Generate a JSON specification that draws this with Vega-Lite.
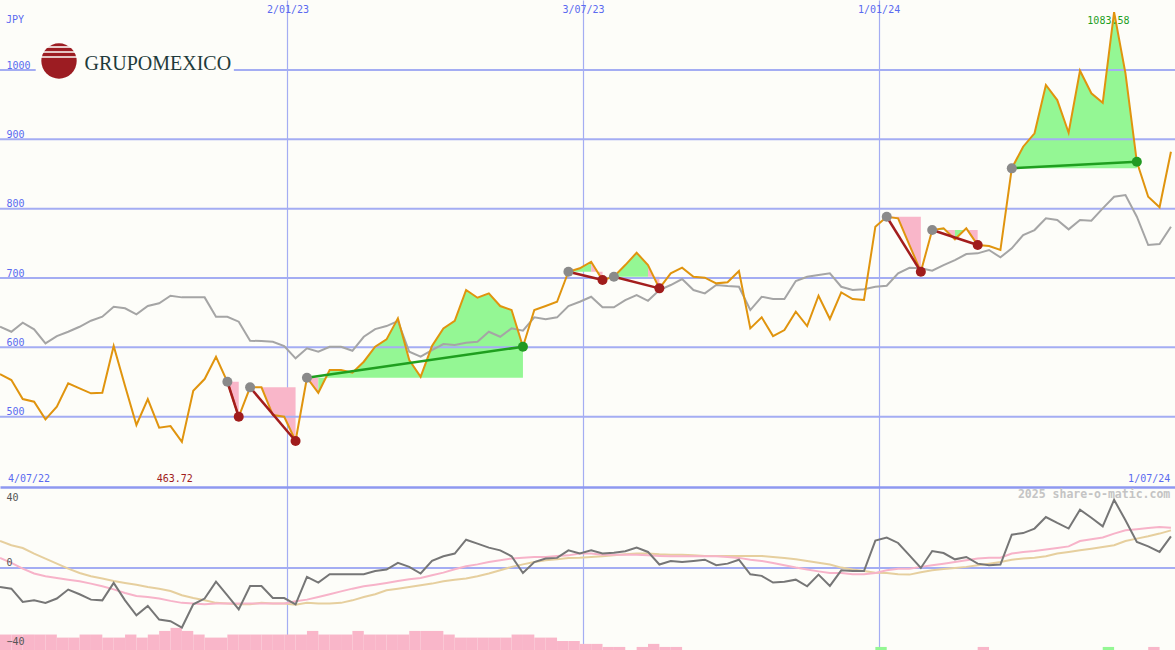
{
  "$schema": "https://vega.github.io/schema/vega-lite/v6.json",
  "background": "#fdfdf9",
  "padding": 0,
  "spacing": 0,
  "config": {"view": {"stroke": null}},
  "datasets": {
    "main": [
      {"d":"2022-07-09","p":561.5,"g":629.7,"o":-10.6,"a":5.6,"b":15.0},
      {"d":"2022-07-16","p":552.9,"g":622.5,"o":-11.5,"a":2.8,"b":12.6},
      {"d":"2022-07-23","p":525.5,"g":635.5,"o":-18.9,"a":-0.4,"b":11.1},
      {"d":"2022-07-30","p":521.6,"g":626.0,"o":-18.0,"a":-3.1,"b":8.0},
      {"d":"2022-08-06","p":496.2,"g":605.8,"o":-19.4,"a":-4.6,"b":5.2},
      {"d":"2022-08-13","p":514.3,"g":616.3,"o":-17.0,"a":-5.6,"b":2.4},
      {"d":"2022-08-20","p":548.1,"g":622.5,"o":-12.0,"a":-6.5,"b":-0.4},
      {"d":"2022-08-27","p":540.9,"g":629.7,"o":-14.6,"a":-7.4,"b":-2.8},
      {"d":"2022-09-03","p":533.7,"g":638.4,"o":-17.6,"a":-8.7,"b":-4.6},
      {"d":"2022-09-10","p":534.5,"g":644.2,"o":-18.0,"a":-10.2,"b":-5.9},
      {"d":"2022-09-17","p":601.9,"g":658.6,"o":-8.3,"a":-11.9,"b":-7.2},
      {"d":"2022-09-24","p":544.2,"g":656.3,"o":-18.0,"a":-13.9,"b":-8.3},
      {"d":"2022-10-01","p":488.0,"g":647.6,"o":-26.3,"a":-15.6,"b":-9.3},
      {"d":"2022-10-08","p":525.5,"g":659.6,"o":-21.1,"a":-16.1,"b":-10.6},
      {"d":"2022-10-15","p":484.1,"g":663.5,"o":-28.7,"a":-17.0,"b":-11.5},
      {"d":"2022-10-22","p":486.5,"g":674.4,"o":-29.6,"a":-18.3,"b":-12.8},
      {"d":"2022-10-29","p":463.72,"g":672.1,"o":-33.1,"a":-19.4,"b":-15.2},
      {"d":"2022-11-05","p":537.4,"g":672.1,"o":-20.2,"a":-19.8,"b":-16.7},
      {"d":"2022-11-12","p":554.3,"g":672.1,"o":-17.0,"a":-20.2,"b":-18.0},
      {"d":"2022-11-19","p":586.5,"g":644.2,"o":-7.6,"a":-19.8,"b":-19.4},
      {"d":"2022-11-26","p":550.4,"g":644.2,"o":-15.2,"a":-19.8,"b":-19.8},
      {"d":"2022-12-03","p":499.9,"g":637.0,"o":-23.0,"a":-19.8,"b":-20.2},
      {"d":"2022-12-10","p":542.3,"g":609.5,"o":-10.0,"a":-19.8,"b":-20.2},
      {"d":"2022-12-17","p":542.3,"g":609.1,"o":-10.0,"a":-19.8,"b":-19.4},
      {"d":"2022-12-24","p":502.4,"g":608.1,"o":-16.7,"a":-19.8,"b":-19.8},
      {"d":"2022-12-31","p":499.9,"g":601.9,"o":-16.7,"a":-19.8,"b":-19.8},
      {"d":"2023-01-07","p":465.0,"g":584.2,"o":-20.2,"a":-18.5,"b":-20.4},
      {"d":"2023-01-14","p":556.2,"g":598.6,"o":-5.0,"a":-17.6,"b":-19.4},
      {"d":"2023-01-21","p":534.5,"g":593.7,"o":-8.1,"a":-16.1,"b":-19.8},
      {"d":"2023-01-28","p":567.3,"g":600.9,"o":-3.5,"a":-14.6,"b":-19.8},
      {"d":"2023-02-04","p":567.3,"g":600.9,"o":-3.5,"a":-13.0,"b":-19.4},
      {"d":"2023-02-11","p":563.4,"g":595.1,"o":-3.5,"a":-11.5,"b":-18.0},
      {"d":"2023-02-18","p":579.3,"g":615.3,"o":-3.5,"a":-10.2,"b":-16.1},
      {"d":"2023-02-25","p":600.9,"g":626.4,"o":-1.7,"a":-9.3,"b":-14.6},
      {"d":"2023-03-04","p":611.5,"g":630.7,"o":-0.9,"a":-8.3,"b":-12.4},
      {"d":"2023-03-11","p":641.9,"g":638.0,"o":2.8,"a":-7.2,"b":-11.5},
      {"d":"2023-03-18","p":581.7,"g":593.7,"o":0.6,"a":-6.3,"b":-10.6},
      {"d":"2023-03-25","p":557.6,"g":586.5,"o":-3.1,"a":-5.6,"b":-9.6},
      {"d":"2023-04-01","p":601.9,"g":596.1,"o":3.9,"a":-4.1,"b":-8.7},
      {"d":"2023-04-08","p":627.4,"g":604.8,"o":6.5,"a":-2.6,"b":-7.4},
      {"d":"2023-04-15","p":638.4,"g":603.3,"o":8.0,"a":-0.7,"b":-6.5},
      {"d":"2023-04-22","p":682.7,"g":606.7,"o":15.7,"a":0.9,"b":-5.9},
      {"d":"2023-04-29","p":671.6,"g":608.1,"o":13.5,"a":2.0,"b":-4.6},
      {"d":"2023-05-06","p":677.9,"g":622.5,"o":11.3,"a":3.3,"b":-3.1},
      {"d":"2023-05-13","p":659.6,"g":615.3,"o":9.8,"a":4.3,"b":-1.3},
      {"d":"2023-05-20","p":653.8,"g":627.4,"o":6.5,"a":5.2,"b":0.6},
      {"d":"2023-05-27","p":600.9,"g":624.0,"o":-2.8,"a":5.7,"b":2.0},
      {"d":"2023-06-03","p":653.8,"g":643.3,"o":3.3,"a":6.1,"b":3.3},
      {"d":"2023-06-10","p":659.6,"g":640.4,"o":5.2,"a":6.1,"b":4.3},
      {"d":"2023-06-17","p":665.8,"g":643.3,"o":5.6,"a":6.7,"b":4.8},
      {"d":"2023-06-24","p":709.1,"g":659.6,"o":9.8,"a":7.0,"b":5.6},
      {"d":"2023-07-01","p":714.0,"g":665.8,"o":8.0,"a":8.0,"b":5.7},
      {"d":"2023-07-08","p":723.5,"g":673.0,"o":9.8,"a":8.0,"b":6.1},
      {"d":"2023-07-15","p":697.1,"g":657.7,"o":8.0,"a":7.4,"b":6.5},
      {"d":"2023-07-22","p":701.9,"g":657.7,"o":8.5,"a":7.4,"b":7.0},
      {"d":"2023-07-29","p":718.7,"g":668.2,"o":9.3,"a":7.4,"b":7.6},
      {"d":"2023-08-05","p":736.5,"g":675.5,"o":11.3,"a":7.4,"b":8.0},
      {"d":"2023-08-12","p":718.7,"g":667.2,"o":8.9,"a":7.0,"b":8.0},
      {"d":"2023-08-19","p":685.1,"g":682.7,"o":1.9,"a":6.7,"b":7.6},
      {"d":"2023-08-26","p":706.8,"g":689.9,"o":3.9,"a":6.5,"b":7.4},
      {"d":"2023-09-02","p":714.9,"g":698.5,"o":3.3,"a":6.5,"b":7.4},
      {"d":"2023-09-09","p":701.9,"g":682.7,"o":3.9,"a":6.5,"b":7.0},
      {"d":"2023-09-16","p":700.5,"g":677.9,"o":4.6,"a":6.5,"b":6.7},
      {"d":"2023-09-23","p":692.3,"g":689.9,"o":1.5,"a":6.5,"b":6.7},
      {"d":"2023-09-30","p":693.8,"g":688.4,"o":2.4,"a":6.1,"b":6.7},
      {"d":"2023-10-07","p":710.1,"g":687.4,"o":4.6,"a":5.6,"b":6.7},
      {"d":"2023-10-14","p":627.4,"g":653.8,"o":-3.5,"a":4.6,"b":6.7},
      {"d":"2023-10-21","p":643.3,"g":673.0,"o":-4.4,"a":3.9,"b":6.7},
      {"d":"2023-10-28","p":616.3,"g":669.7,"o":-8.1,"a":2.8,"b":6.1},
      {"d":"2023-11-04","p":625.0,"g":669.7,"o":-7.6,"a":1.5,"b":5.6},
      {"d":"2023-11-11","p":651.4,"g":695.7,"o":-6.5,"a":0.2,"b":4.8},
      {"d":"2023-11-18","p":630.8,"g":701.9,"o":-10.2,"a":-0.9,"b":3.9},
      {"d":"2023-11-25","p":674.5,"g":704.3,"o":-3.7,"a":-1.9,"b":2.9},
      {"d":"2023-12-02","p":640.9,"g":706.8,"o":-10.0,"a":-2.8,"b":1.9},
      {"d":"2023-12-09","p":679.3,"g":687.4,"o":-1.3,"a":-2.8,"b":0.2},
      {"d":"2023-12-16","p":669.7,"g":682.7,"o":-1.7,"a":-3.5,"b":-0.9},
      {"d":"2023-12-23","p":668.3,"g":683.7,"o":-1.7,"a":-3.5,"b":-1.7},
      {"d":"2023-12-30","p":774.0,"g":687.4,"o":15.2,"a":-2.8,"b":-2.6},
      {"d":"2024-01-06","p":788.4,"g":688.9,"o":16.9,"a":-1.3,"b":-2.8},
      {"d":"2024-01-13","p":786.1,"g":706.8,"o":13.9,"a":-0.4,"b":-3.5},
      {"d":"2024-01-20","p":747.6,"g":714.8,"o":7.0,"a":-0.4,"b":-3.7},
      {"d":"2024-01-27","p":709.1,"g":714.0,"o":0.0,"a":0.6,"b":-2.4},
      {"d":"2024-02-03","p":769.2,"g":710.5,"o":9.4,"a":1.5,"b":-1.3},
      {"d":"2024-02-10","p":771.6,"g":718.7,"o":8.3,"a":2.4,"b":-0.6},
      {"d":"2024-02-17","p":755.8,"g":725.9,"o":4.8,"a":3.3,"b":0.0},
      {"d":"2024-02-24","p":771.6,"g":734.6,"o":6.1,"a":4.3,"b":0.6},
      {"d":"2024-03-02","p":747.6,"g":735.6,"o":2.4,"a":5.2,"b":1.5},
      {"d":"2024-03-09","p":746.1,"g":740.4,"o":1.5,"a":5.7,"b":2.4},
      {"d":"2024-03-16","p":740.4,"g":729.8,"o":1.9,"a":5.7,"b":3.3},
      {"d":"2024-03-23","p":858.2,"g":742.8,"o":18.5,"a":8.0,"b":4.6},
      {"d":"2024-03-30","p":889.4,"g":762.0,"o":19.4,"a":8.9,"b":5.2},
      {"d":"2024-04-06","p":908.7,"g":769.2,"o":21.9,"a":9.4,"b":5.7},
      {"d":"2024-04-13","p":978.4,"g":786.1,"o":28.3,"a":10.2,"b":6.5},
      {"d":"2024-04-20","p":956.7,"g":783.6,"o":25.0,"a":11.1,"b":8.0},
      {"d":"2024-04-27","p":909.6,"g":770.2,"o":21.9,"a":12.0,"b":8.9},
      {"d":"2024-05-04","p":999.0,"g":783.6,"o":32.4,"a":15.0,"b":9.8},
      {"d":"2024-05-11","p":966.4,"g":782.6,"o":27.9,"a":15.9,"b":10.7},
      {"d":"2024-05-18","p":952.8,"g":800.5,"o":23.1,"a":16.9,"b":11.7},
      {"d":"2024-05-25","p":1083.58,"g":817.2,"o":37.9,"a":19.1,"b":12.6},
      {"d":"2024-06-01","p":995.2,"g":819.7,"o":26.5,"a":20.9,"b":15.0},
      {"d":"2024-06-08","p":867.7,"g":788.4,"o":14.4,"a":21.5,"b":16.3},
      {"d":"2024-06-15","p":817.3,"g":747.6,"o":12.0,"a":22.2,"b":17.6},
      {"d":"2024-06-22","p":802.0,"g":749.0,"o":8.9,"a":22.8,"b":19.1},
      {"d":"2024-06-29","p":882.2,"g":774.0,"o":17.6,"a":22.4,"b":20.9}
    ],
    "runs": [
      {"r":1,"c":"down","d":"2022-11-26","p":550.4,"b":550.4},
      {"r":1,"c":"down","d":"2022-12-03","p":499.9,"b":550.4},
      {"r":2,"c":"down","d":"2022-12-10","p":542.3,"b":542.3},
      {"r":2,"c":"down","d":"2022-12-17","p":542.3,"b":542.3},
      {"r":2,"c":"down","d":"2022-12-24","p":502.4,"b":542.3},
      {"r":2,"c":"down","d":"2022-12-31","p":499.9,"b":542.3},
      {"r":2,"c":"down","d":"2023-01-07","p":465.0,"b":542.3},
      {"r":3,"c":"down","d":"2023-01-14","p":556.2,"b":556.2},
      {"r":3,"c":"down","d":"2023-01-21","p":534.5,"b":556.2},
      {"r":4,"c":"up","d":"2023-01-21","p":534.5,"b":556.2},
      {"r":4,"c":"up","d":"2023-01-28","p":567.3,"b":556.2},
      {"r":4,"c":"up","d":"2023-02-04","p":567.3,"b":556.2},
      {"r":4,"c":"up","d":"2023-02-11","p":563.4,"b":556.2},
      {"r":4,"c":"up","d":"2023-02-18","p":579.3,"b":556.2},
      {"r":4,"c":"up","d":"2023-02-25","p":600.9,"b":556.2},
      {"r":4,"c":"up","d":"2023-03-04","p":611.5,"b":556.2},
      {"r":4,"c":"up","d":"2023-03-11","p":641.9,"b":556.2},
      {"r":4,"c":"up","d":"2023-03-18","p":581.7,"b":556.2},
      {"r":4,"c":"up","d":"2023-03-25","p":557.6,"b":556.2},
      {"r":4,"c":"up","d":"2023-04-01","p":601.9,"b":556.2},
      {"r":4,"c":"up","d":"2023-04-08","p":627.4,"b":556.2},
      {"r":4,"c":"up","d":"2023-04-15","p":638.4,"b":556.2},
      {"r":4,"c":"up","d":"2023-04-22","p":682.7,"b":556.2},
      {"r":4,"c":"up","d":"2023-04-29","p":671.6,"b":556.2},
      {"r":4,"c":"up","d":"2023-05-06","p":677.9,"b":556.2},
      {"r":4,"c":"up","d":"2023-05-13","p":659.6,"b":556.2},
      {"r":4,"c":"up","d":"2023-05-20","p":653.8,"b":556.2},
      {"r":4,"c":"up","d":"2023-05-27","p":600.9,"b":556.2},
      {"r":5,"c":"up","d":"2023-06-24","p":709.1,"b":709.1},
      {"r":5,"c":"up","d":"2023-07-01","p":714.0,"b":709.1},
      {"r":5,"c":"up","d":"2023-07-08","p":723.5,"b":709.1},
      {"r":6,"c":"down","d":"2023-07-08","p":723.5,"b":709.1},
      {"r":6,"c":"down","d":"2023-07-15","p":697.1,"b":709.1},
      {"r":7,"c":"up","d":"2023-07-22","p":701.9,"b":701.9},
      {"r":7,"c":"up","d":"2023-07-29","p":718.7,"b":701.9},
      {"r":7,"c":"up","d":"2023-08-05","p":736.5,"b":701.9},
      {"r":7,"c":"up","d":"2023-08-12","p":718.7,"b":701.9},
      {"r":8,"c":"down","d":"2023-08-12","p":718.7,"b":701.9},
      {"r":8,"c":"down","d":"2023-08-19","p":685.1,"b":701.9},
      {"r":9,"c":"down","d":"2024-01-06","p":788.4,"b":788.4},
      {"r":9,"c":"down","d":"2024-01-13","p":786.1,"b":788.4},
      {"r":9,"c":"down","d":"2024-01-20","p":747.6,"b":788.4},
      {"r":9,"c":"down","d":"2024-01-27","p":709.1,"b":788.4},
      {"r":10,"c":"up","d":"2024-02-03","p":769.2,"b":769.2},
      {"r":10,"c":"up","d":"2024-02-10","p":771.6,"b":769.2},
      {"r":11,"c":"down","d":"2024-02-10","p":771.6,"b":769.2},
      {"r":11,"c":"down","d":"2024-02-17","p":755.8,"b":769.2},
      {"r":12,"c":"up","d":"2024-02-17","p":755.8,"b":769.2},
      {"r":12,"c":"up","d":"2024-02-24","p":771.6,"b":769.2},
      {"r":13,"c":"down","d":"2024-02-24","p":771.6,"b":769.2},
      {"r":13,"c":"down","d":"2024-03-02","p":747.6,"b":769.2},
      {"r":14,"c":"up","d":"2024-03-23","p":858.2,"b":858.2},
      {"r":14,"c":"up","d":"2024-03-30","p":889.4,"b":858.2},
      {"r":14,"c":"up","d":"2024-04-06","p":908.7,"b":858.2},
      {"r":14,"c":"up","d":"2024-04-13","p":978.4,"b":858.2},
      {"r":14,"c":"up","d":"2024-04-20","p":956.7,"b":858.2},
      {"r":14,"c":"up","d":"2024-04-27","p":909.6,"b":858.2},
      {"r":14,"c":"up","d":"2024-05-04","p":999.0,"b":858.2},
      {"r":14,"c":"up","d":"2024-05-11","p":966.4,"b":858.2},
      {"r":14,"c":"up","d":"2024-05-18","p":952.8,"b":858.2},
      {"r":14,"c":"up","d":"2024-05-25","p":1083.58,"b":858.2},
      {"r":14,"c":"up","d":"2024-06-01","p":995.2,"b":858.2},
      {"r":14,"c":"up","d":"2024-06-08","p":867.7,"b":858.2}
    ],
    "trends": [
      {"t":1,"dir":"down","m":"start","d":"2022-11-26","p":550.4},
      {"t":1,"dir":"down","m":"down","d":"2022-12-03","p":499.9},
      {"t":2,"dir":"down","m":"start","d":"2022-12-10","p":542.3},
      {"t":2,"dir":"down","m":"down","d":"2023-01-07","p":465.0},
      {"t":3,"dir":"up","m":"start","d":"2023-01-14","p":556.2},
      {"t":3,"dir":"up","m":"up","d":"2023-05-27","p":600.9},
      {"t":4,"dir":"down","m":"start","d":"2023-06-24","p":709.1},
      {"t":4,"dir":"down","m":"down","d":"2023-07-15","p":697.1},
      {"t":5,"dir":"down","m":"start","d":"2023-07-22","p":701.9},
      {"t":5,"dir":"down","m":"down","d":"2023-08-19","p":685.1},
      {"t":6,"dir":"down","m":"start","d":"2024-01-06","p":788.4},
      {"t":6,"dir":"down","m":"down","d":"2024-01-27","p":709.1},
      {"t":7,"dir":"down","m":"start","d":"2024-02-03","p":769.2},
      {"t":7,"dir":"down","m":"down","d":"2024-03-02","p":747.6},
      {"t":8,"dir":"up","m":"start","d":"2024-03-23","p":858.2},
      {"t":8,"dir":"up","m":"up","d":"2024-06-08","p":867.7}
    ],
    "bars": [
      {"d":"2022-07-09","e":"2022-07-16","v":-37,"c":"down"},
      {"d":"2022-07-16","e":"2022-07-23","v":-37,"c":"down"},
      {"d":"2022-07-23","e":"2022-07-30","v":-37,"c":"down"},
      {"d":"2022-07-30","e":"2022-08-06","v":-37,"c":"down"},
      {"d":"2022-08-06","e":"2022-08-13","v":-37,"c":"down"},
      {"d":"2022-08-13","e":"2022-08-20","v":-38.7,"c":"down"},
      {"d":"2022-08-20","e":"2022-08-27","v":-38.7,"c":"down"},
      {"d":"2022-08-27","e":"2022-09-03","v":-37,"c":"down"},
      {"d":"2022-09-03","e":"2022-09-10","v":-37,"c":"down"},
      {"d":"2022-09-10","e":"2022-09-17","v":-38.7,"c":"down"},
      {"d":"2022-09-17","e":"2022-09-24","v":-38.7,"c":"down"},
      {"d":"2022-09-24","e":"2022-10-01","v":-37,"c":"down"},
      {"d":"2022-10-01","e":"2022-10-08","v":-38.7,"c":"down"},
      {"d":"2022-10-08","e":"2022-10-15","v":-37,"c":"down"},
      {"d":"2022-10-15","e":"2022-10-22","v":-35,"c":"down"},
      {"d":"2022-10-22","e":"2022-10-29","v":-33.3,"c":"down"},
      {"d":"2022-10-29","e":"2022-11-05","v":-35,"c":"down"},
      {"d":"2022-11-05","e":"2022-11-12","v":-37,"c":"down"},
      {"d":"2022-11-12","e":"2022-11-19","v":-38.7,"c":"down"},
      {"d":"2022-11-19","e":"2022-11-26","v":-38.7,"c":"down"},
      {"d":"2022-11-26","e":"2022-12-03","v":-37,"c":"down"},
      {"d":"2022-12-03","e":"2022-12-10","v":-37,"c":"down"},
      {"d":"2022-12-10","e":"2022-12-17","v":-37,"c":"down"},
      {"d":"2022-12-17","e":"2022-12-24","v":-37,"c":"down"},
      {"d":"2022-12-24","e":"2022-12-31","v":-37,"c":"down"},
      {"d":"2022-12-31","e":"2023-01-07","v":-37,"c":"down"},
      {"d":"2023-01-07","e":"2023-01-14","v":-37,"c":"down"},
      {"d":"2023-01-14","e":"2023-01-21","v":-35,"c":"down"},
      {"d":"2023-01-21","e":"2023-01-28","v":-37,"c":"down"},
      {"d":"2023-01-28","e":"2023-02-04","v":-37,"c":"down"},
      {"d":"2023-02-04","e":"2023-02-11","v":-37,"c":"down"},
      {"d":"2023-02-11","e":"2023-02-18","v":-35,"c":"down"},
      {"d":"2023-02-18","e":"2023-02-25","v":-37,"c":"down"},
      {"d":"2023-02-25","e":"2023-03-04","v":-37,"c":"down"},
      {"d":"2023-03-04","e":"2023-03-11","v":-37,"c":"down"},
      {"d":"2023-03-11","e":"2023-03-18","v":-37,"c":"down"},
      {"d":"2023-03-18","e":"2023-03-25","v":-35,"c":"down"},
      {"d":"2023-03-25","e":"2023-04-01","v":-35,"c":"down"},
      {"d":"2023-04-01","e":"2023-04-08","v":-35,"c":"down"},
      {"d":"2023-04-08","e":"2023-04-15","v":-37,"c":"down"},
      {"d":"2023-04-15","e":"2023-04-22","v":-38.7,"c":"down"},
      {"d":"2023-04-22","e":"2023-04-29","v":-38.7,"c":"down"},
      {"d":"2023-04-29","e":"2023-05-06","v":-38.7,"c":"down"},
      {"d":"2023-05-06","e":"2023-05-13","v":-38.7,"c":"down"},
      {"d":"2023-05-13","e":"2023-05-20","v":-38.7,"c":"down"},
      {"d":"2023-05-20","e":"2023-05-27","v":-37,"c":"down"},
      {"d":"2023-05-27","e":"2023-06-03","v":-37,"c":"down"},
      {"d":"2023-06-03","e":"2023-06-10","v":-38.7,"c":"down"},
      {"d":"2023-06-10","e":"2023-06-17","v":-38.7,"c":"down"},
      {"d":"2023-06-17","e":"2023-06-24","v":-40.6,"c":"down"},
      {"d":"2023-06-24","e":"2023-07-01","v":-40.6,"c":"down"},
      {"d":"2023-07-01","e":"2023-07-08","v":-42.2,"c":"down"},
      {"d":"2023-07-08","e":"2023-07-15","v":-42.2,"c":"down"},
      {"d":"2023-07-15","e":"2023-07-22","v":-43.9,"c":"down"},
      {"d":"2023-07-22","e":"2023-07-29","v":-43.9,"c":"down"},
      {"d":"2023-08-05","e":"2023-08-12","v":-43.9,"c":"down"},
      {"d":"2023-08-12","e":"2023-08-19","v":-42.2,"c":"down"},
      {"d":"2023-08-19","e":"2023-08-26","v":-43.9,"c":"down"},
      {"d":"2023-08-26","e":"2023-09-02","v":-43.9,"c":"down"},
      {"d":"2023-12-30","e":"2024-01-06","v":-43.9,"c":"up"},
      {"d":"2024-03-02","e":"2024-03-09","v":-43.9,"c":"down"},
      {"d":"2024-05-18","e":"2024-05-25","v":-43.9,"c":"up"},
      {"d":"2024-06-15","e":"2024-06-22","v":-43.9,"c":"down"}
    ]
  },
  "vconcat": [
    {
      "width": 1175,
      "height": 487,
      "resolve": {"scale": {"color": "independent"}},
      "layer": [
        {
          "data": {"name": "runs"},
          "mark": {"type": "area", "opacity": 1, "interpolate": "linear", "clip": true},
          "encoding": {
            "x": {"field": "d", "type": "temporal", "title": null,
              "scale": {"type": "utc", "domain": [{"year": 2022, "month": 7, "date": 9, "utc": true}, {"year": 2024, "month": 7, "date": 1, "hours": 12, "utc": true}]},
              "axis": {"orient": "top", "values": [{"year": 2023, "month": 1, "date": 2, "utc": true}, {"year": 2023, "month": 7, "date": 3, "utc": true}, {"year": 2024, "month": 1, "date": 1, "utc": true}],
                "grid": true, "gridColor": "#a4adf3", "gridWidth": 1.2, "domain": false, "ticks": false, "tickSize": 0,
                "labelExpr": "utcFormat(datum.value, '%-d/%m/%y')", "labelPadding": -14, "labelBaseline": "bottom",
                "labelColor": "#5a6af0", "labelFont": "DejaVu Sans Mono", "labelFontSize": 10, "labelFlush": false, "labelOverlap": false}},
            "y": {"field": "p", "type": "quantitative", "title": null,
              "scale": {"domain": [398.6, 1101], "zero": false, "nice": false},
              "axis": {"values": [500, 600, 700, 800, 900, 1000], "format": "d", "grid": false, "domain": false, "ticks": false, "tickSize": 0,
                "labelPadding": -6, "labelAlign": "left", "labelBaseline": "bottom", "labelColor": "#5a6af0",
                "labelFont": "DejaVu Sans Mono", "labelFontSize": 10, "labelOverlap": false, "labelFlush": false}},
            "y2": {"field": "b"},
            "detail": {"field": "r", "type": "nominal"},
            "color": {"field": "c", "type": "nominal", "legend": null, "scale": {"domain": ["up", "down"], "range": ["#94f794", "#f9b6c9"]}}
          }
        },
        {
          "data": {"values": [{"v": 500}, {"v": 600}, {"v": 700}, {"v": 800}, {"v": 900}, {"v": 1000}]},
          "mark": {"type": "rule", "color": "#a4adf3", "strokeWidth": 2, "clip": true},
          "encoding": {"y": {"field": "v", "type": "quantitative", "title": null}}
        },
        {
          "data": {"values": [{"d": "2022-07-31", "e": "2022-11-30", "y1": 990, "y2": 1010}]},
          "mark": {"type": "rect", "color": "#fdfdf9"},
          "encoding": {
            "x": {"field": "d", "type": "temporal", "title": null},
            "x2": {"field": "e"},
            "y": {"field": "y1", "type": "quantitative", "title": null},
            "y2": {"field": "y2"}
          }
        },
        {
          "data": {"values": [{"d": "2022-08-14T08:00:00Z", "v": 1013}]},
          "mark": {"type": "point", "shape": "circle", "filled": true, "opacity": 1, "size": 1250, "color": "#9c1c22"},
          "encoding": {
            "x": {"field": "d", "type": "temporal", "title": null},
            "y": {"field": "v", "type": "quantitative", "title": null}
          }
        },
        {
          "data": {"values": [
            {"d": "2022-08-05T12:00:00Z", "e": "2022-08-23T02:00:00Z", "v": 1033.2},
            {"d": "2022-08-03T05:00:00Z", "e": "2022-08-25T08:00:00Z", "v": 1026.0},
            {"d": "2022-08-02T05:00:00Z", "e": "2022-08-26T08:00:00Z", "v": 1018.8}
          ]},
          "mark": {"type": "rule", "color": "#fdfdf9", "strokeWidth": 1.6},
          "encoding": {
            "x": {"field": "d", "type": "temporal", "title": null},
            "x2": {"field": "e"},
            "y": {"field": "v", "type": "quantitative", "title": null}
          }
        },
        {
          "data": {"values": [{"d": "2022-08-30", "v": 1000, "label": "GRUPOMEXICO"}]},
          "mark": {"type": "text", "align": "left", "baseline": "alphabetic", "font": "Liberation Serif", "fontSize": 20, "color": "#1f3b3b"},
          "encoding": {
            "x": {"field": "d", "type": "temporal", "title": null},
            "y": {"field": "v", "type": "quantitative", "title": null},
            "text": {"field": "label"}
          }
        },
        {
          "data": {"name": "main"},
          "mark": {"type": "line", "color": "#a5a5a5", "strokeWidth": 2, "clip": true},
          "encoding": {
            "x": {"field": "d", "type": "temporal", "title": null},
            "y": {"field": "g", "type": "quantitative", "title": null}
          }
        },
        {
          "data": {"name": "main"},
          "mark": {"type": "line", "color": "#e0940e", "strokeWidth": 2, "clip": true},
          "encoding": {
            "x": {"field": "d", "type": "temporal", "title": null},
            "y": {"field": "p", "type": "quantitative", "title": null}
          }
        },
        {
          "data": {"name": "trends"},
          "mark": {"type": "line", "strokeWidth": 2.5, "clip": true},
          "encoding": {
            "x": {"field": "d", "type": "temporal", "title": null},
            "y": {"field": "p", "type": "quantitative", "title": null},
            "detail": {"field": "t", "type": "nominal"},
            "color": {"field": "dir", "type": "nominal", "legend": null, "scale": {"domain": ["down", "up"], "range": ["#a31d1d", "#1f9f1f"]}}
          }
        },
        {
          "data": {"name": "trends"},
          "mark": {"type": "circle", "size": 100, "opacity": 1},
          "encoding": {
            "x": {"field": "d", "type": "temporal", "title": null},
            "y": {"field": "p", "type": "quantitative", "title": null},
            "color": {"field": "m", "type": "nominal", "legend": null, "scale": {"domain": ["start", "down", "up"], "range": ["#8a8a8a", "#a01c1c", "#229a22"]}}
          }
        },
        {
          "data": {"values": [{"d": "2022-07-12T16:00:00Z", "v": 1071.5, "label": "JPY"}, {"d": "2022-07-13T22:00:00Z", "v": 410.1, "label": "4/07/22"}]},
          "mark": {"type": "text", "align": "left", "baseline": "middle", "font": "DejaVu Sans Mono", "fontSize": 10, "color": "#5a6af0"},
          "encoding": {
            "x": {"field": "d", "type": "temporal", "title": null},
            "y": {"field": "v", "type": "quantitative", "title": null},
            "text": {"field": "label"}
          }
        },
        {
          "data": {"values": [{"d": "2024-06-28T14:00:00Z", "v": 410.1, "label": "1/07/24"}]},
          "mark": {"type": "text", "align": "right", "baseline": "middle", "font": "DejaVu Sans Mono", "fontSize": 10, "color": "#5a6af0"},
          "encoding": {
            "x": {"field": "d", "type": "temporal", "title": null},
            "y": {"field": "v", "type": "quantitative", "title": null},
            "text": {"field": "label"}
          }
        },
        {
          "data": {"values": [{"d": "2022-10-24T14:00:00Z", "v": 410.1, "label": "463.72"}]},
          "mark": {"type": "text", "align": "center", "baseline": "middle", "font": "DejaVu Sans Mono", "fontSize": 10, "color": "#a01c1c"},
          "encoding": {
            "x": {"field": "d", "type": "temporal", "title": null},
            "y": {"field": "v", "type": "quantitative", "title": null},
            "text": {"field": "label"}
          }
        },
        {
          "data": {"values": [{"d": "2024-05-21T12:00:00Z", "v": 1070.7, "label": "1083.58"}]},
          "mark": {"type": "text", "align": "center", "baseline": "middle", "font": "DejaVu Sans Mono", "fontSize": 10, "color": "#1f9f1f"},
          "encoding": {
            "x": {"field": "d", "type": "temporal", "title": null},
            "y": {"field": "v", "type": "quantitative", "title": null},
            "text": {"field": "label"}
          }
        }
      ]
    },
    {
      "width": 1175,
      "height": 163,
      "resolve": {"scale": {"color": "independent"}},
      "layer": [
        {
          "data": {"name": "bars"},
          "mark": {"type": "rect", "clip": true},
          "encoding": {
            "x": {"field": "d", "type": "temporal", "title": null,
              "scale": {"type": "utc", "domain": [{"year": 2022, "month": 7, "date": 9, "utc": true}, {"year": 2024, "month": 7, "date": 1, "hours": 12, "utc": true}]},
              "axis": {"orient": "top", "values": [{"year": 2023, "month": 1, "date": 2, "utc": true}, {"year": 2023, "month": 7, "date": 3, "utc": true}, {"year": 2024, "month": 1, "date": 1, "utc": true}],
                "grid": true, "gridColor": "#a4adf3", "gridWidth": 1.2, "domain": true, "domainColor": "#8e98f0", "domainWidth": 2.5,
                "ticks": false, "tickSize": 0, "labels": false}},
            "x2": {"field": "e"},
            "y": {"field": "v", "type": "quantitative", "title": null,
              "scale": {"domain": [-45.6, 45], "zero": false, "nice": false},
              "axis": {"values": [-40, 0, 40], "grid": false, "domain": false, "ticks": false, "tickSize": 0, "zindex": 1,
                "labelPadding": -6, "labelAlign": "left", "labelBaseline": "bottom",
                "labelOffset": {"condition": {"test": "datum.value == 0", "value": 0}, "value": 7},
                "labelColor": "#555555", "labelFont": "DejaVu Sans Mono", "labelFontSize": 10, "labelOverlap": false, "labelFlush": false}},
            "y2": {"datum": -45.6},
            "color": {"field": "c", "type": "nominal", "legend": null, "scale": {"domain": ["up", "down"], "range": ["#94f794", "#f9b6c9"]}}
          }
        },
        {
          "data": {"values": [{"v": 0}]},
          "mark": {"type": "rule", "color": "#a4adf3", "strokeWidth": 2, "clip": true},
          "encoding": {"y": {"field": "v", "type": "quantitative", "title": null}}
        },
        {
          "data": {"name": "main"},
          "mark": {"type": "line", "color": "#e6cf9e", "strokeWidth": 2, "clip": true},
          "encoding": {
            "x": {"field": "d", "type": "temporal", "title": null},
            "y": {"field": "b", "type": "quantitative", "title": null}
          }
        },
        {
          "data": {"name": "main"},
          "mark": {"type": "line", "color": "#f7b3c9", "strokeWidth": 2, "clip": true},
          "encoding": {
            "x": {"field": "d", "type": "temporal", "title": null},
            "y": {"field": "a", "type": "quantitative", "title": null}
          }
        },
        {
          "data": {"name": "main"},
          "mark": {"type": "line", "color": "#767676", "strokeWidth": 2, "clip": true},
          "encoding": {
            "x": {"field": "d", "type": "temporal", "title": null},
            "y": {"field": "o", "type": "quantitative", "title": null}
          }
        },
        {
          "data": {"values": [{"d": "2024-06-28T14:00:00Z", "v": 40.3, "label": "2025 share-o-matic.com"}]},
          "mark": {"type": "text", "align": "right", "baseline": "middle", "font": "DejaVu Sans Mono", "fontSize": 11.5, "fontWeight": "bold", "color": "#c4c4c4"},
          "encoding": {
            "x": {"field": "d", "type": "temporal", "title": null},
            "y": {"field": "v", "type": "quantitative", "title": null},
            "text": {"field": "label"}
          }
        }
      ]
    }
  ]
}
